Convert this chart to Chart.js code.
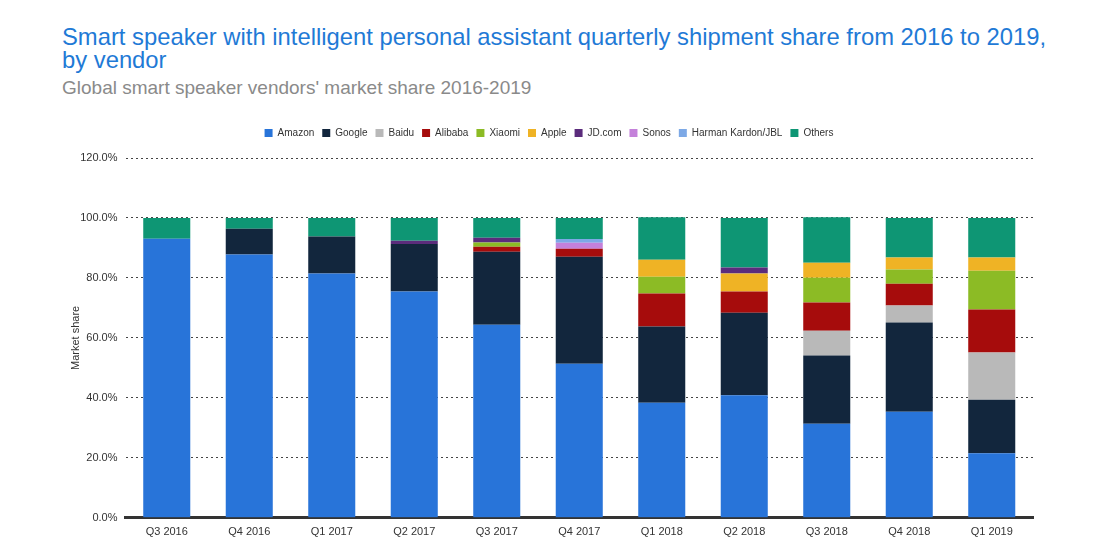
<!DOCTYPE html>
<html>
<head>
<meta charset="utf-8">
<script src="https://cdn.jsdelivr.net/npm/chart.js@4/dist/chart.umd.min.js"></script>
<style>
  html, body { margin: 0; padding: 0; background: #fff; width: 1115px; height: 552px; overflow: hidden; }
  #title { position: absolute; left: 62px; top: 25px; font-family: "Liberation Sans", Arial, sans-serif; font-size: 23.8px; line-height: 23px; color: #1f7ad6; white-space: nowrap; }
  #subtitle { position: absolute; left: 62px; top: 77px; font-family: "Liberation Sans", Arial, sans-serif; font-size: 19px; line-height: 22px; color: #8a8a8a; white-space: nowrap; }
  #wrap { position: absolute; left: 0; top: 120px; width: 1115px; height: 432px; }
</style>
</head>
<body>
<div id="title">Smart speaker with intelligent personal assistant quarterly shipment share from 2016 to 2019,<br>by vendor</div>
<div id="subtitle">Global smart speaker vendors' market share 2016-2019</div>
<div id="wrap"><canvas id="c"></canvas></div>
<script>
const categories = ["Q3 2016","Q4 2016","Q1 2017","Q2 2017","Q3 2017","Q4 2017","Q1 2018","Q2 2018","Q3 2018","Q4 2018","Q1 2019"];
const amazon  = [93.1, 87.8, 81.5, 75.5, 64.4, 51.4, 38.4, 40.9, 31.4, 35.4, 21.5];
const google  = [0, 8.6, 12.3, 15.8, 24.3, 35.7, 25.4, 27.5, 22.7, 29.7, 17.9];
const baidu   = [0, 0, 0, 0, 0, 0, 0, 0, 8.3, 5.7, 15.7];
const alibaba = [0, 0, 0, 0, 1.7, 2.6, 11.0, 7.1, 9.4, 7.3, 14.4];
const xiaomi  = [0, 0, 0, 0, 1.4, 0, 5.6, 0, 8.3, 4.7, 12.9];
const apple   = [0, 0, 0, 0, 0, 0, 5.7, 6.0, 5.0, 4.0, 4.4];
const jd      = [0, 0, 0, 1.1, 1.6, 0, 0, 2.0, 0, 0, 0];
const sonos   = [0, 0, 0, 0, 0, 2.0, 0, 0, 0, 0, 0];
const harman  = [0, 0, 0, 0, 0, 1.3, 0, 0, 0, 0, 0];
const others  = [6.9, 3.6, 6.2, 7.6, 6.6, 7.0, 14.1, 16.5, 15.1, 13.2, 13.2];
const yTicks  = [0, 20, 40, 60, 80, 100, 120];

const series = [
  ["Amazon", amazon, "#2874d9"],
  ["Google", google, "#12263d"],
  ["Baidu", baidu, "#b9b9b9"],
  ["Alibaba", alibaba, "#a60c0c"],
  ["Xiaomi", xiaomi, "#8cbb25"],
  ["Apple", apple, "#efb325"],
  ["JD.com", jd, "#5b2c7c"],
  ["Sonos", sonos, "#c481da"],
  ["Harman Kardon/JBL", harman, "#7da9e6"],
  ["Others", others, "#0e9674"]
];

Chart.defaults.font.family = '"Liberation Sans", Arial, sans-serif';
Chart.defaults.color = '#333';

new Chart(document.getElementById('c'), {
  type: 'bar',
  data: {
    labels: categories,
    datasets: series.map(([label, data, color]) => ({
      label, data, backgroundColor: color, borderWidth: 0,
      barPercentage: 0.57, categoryPercentage: 1.0
    }))
  },
  options: {
    responsive: true,
    maintainAspectRatio: false,
    animation: false,
    layout: { padding: { left: 65, right: 82, top: 0, bottom: 13 } },
    plugins: {
      legend: {
        position: 'top',
        labels: { boxWidth: 8, boxHeight: 8, padding: 8, font: { size: 10 }, color: '#333' }
      },
      tooltip: { enabled: false }
    },
    scales: {
      x: {
        stacked: true,
        grid: { display: false },
        border: { display: true, color: '#333', width: 3 },
        ticks: { font: { size: 11 }, color: '#333', maxRotation: 0, padding: 0 }
      },
      y: {
        stacked: true,
        min: 0, max: 120,
        afterBuildTicks: axis => { axis.ticks = yTicks.map(v => ({ value: v })); },
        ticks: { font: { size: 11 }, color: '#333', padding: 8, callback: v => v.toFixed(1) + '%' },
        grid: { color: '#444', lineWidth: 1, drawTicks: false, tickLength: 0 },
        border: { display: false, dash: [2, 3] },
        title: { display: true, text: 'Market share', font: { size: 11 }, color: '#333', padding: { top: 4, bottom: -10 } }
      }
    }
  },
  plugins: [{
    id: 'legendGap',
    afterInit(chart) {
      const lg = chart.legend;
      const origFit = lg.fit.bind(lg);
      lg.fit = function () { origFit(); this.height += 10; };
    }
  }]
});
</script>
</body>
</html>
